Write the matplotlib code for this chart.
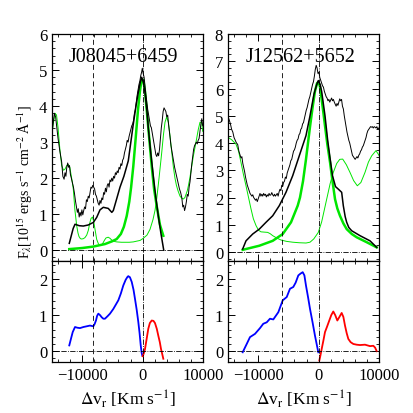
import matplotlib
matplotlib.use("Agg")
from matplotlib import pyplot as plt
from matplotlib.ticker import MultipleLocator

plt.rcParams['font.family'] = ['Liberation Serif', 'DejaVu Serif']
plt.rcParams['mathtext.fontset'] = 'stix'

# ---- J08045+6459 (left) ----
obs1_x = [-15050, -14800, -14600, -14400, -14200, -14000, -13700, -13400, -13200, -13000,
          -12850, -12700, -12550, -12400, -12250, -12100, -11950, -11800, -11600, -11450,
          -11300, -11100, -10950, -10800, -10650, -10500, -10350, -10200, -10050, -9900,
          -9750, -9600, -9450, -9300, -9150, -9000, -8850, -8700, -8550, -8400,
          -8250, -8100, -7950, -7800, -7650, -7500, -7350, -7200, -7050, -6900,
          -6750, -6600, -6450, -6300, -6150, -6000, -5850, -5700, -5550, -5400,
          -5250, -5100, -4950, -4800, -4650, -4500, -4350, -4200, -4050, -3900,
          -3750, -3600, -3450, -3300, -3150, -3000, -2850, -2700, -2550, -2400,
          -2250, -2100, -1950, -1800, -1650, -1500, -1350, -1200, -1050, -900,
          -750, -600, -450, -300, -150, -50, 100, 250, 400, 550,
          700, 850, 1000, 1150, 1300, 1450, 1600, 1750, 1900, 2050,
          2200, 2350, 2500, 2650, 2800, 2950, 3100, 3250, 3400, 3550,
          3700, 3850, 4000, 4150, 4300, 4500, 4700, 4900, 5100, 5300,
          5500, 5700, 5900, 6100, 6300, 6500, 6650, 6800, 6950, 7100,
          7250, 7400, 7550, 7700, 7850, 8000, 8150, 8300, 8450, 8600,
          8750, 8900, 9050, 9200, 9350, 9500, 9650, 9800, 9950]
obs1_y = [3.17, 3.55, 3.8, 3.7, 3.4, 3.1, 2.75, 2.45, 2.05, 1.97,
          2.15, 2.05, 2.3, 2.42, 2.3, 2.35, 2.1, 2.0, 1.85, 1.75,
          1.6, 1.35, 1.2, 1.05, 1.15, 0.92, 1.05, 0.95, 1.12, 0.98,
          1.1, 1.2, 1.15, 1.4, 1.35, 1.5, 1.45, 1.6, 1.75, 1.72,
          1.8, 1.75, 1.7, 1.55, 1.5, 1.4, 1.3, 1.25, 1.38, 1.3,
          1.45, 1.4, 1.6, 1.55, 1.72, 1.62, 1.8, 1.85, 1.75, 1.95,
          1.9, 2.0, 1.92, 2.05, 2.0, 2.15, 2.1, 2.2, 2.15, 2.3,
          2.25, 2.4, 2.35, 2.5, 2.55, 2.7, 2.8, 2.9, 3.05, 3.0,
          3.15, 3.25, 3.35, 3.45, 3.5, 3.6, 3.8, 3.9, 4.1, 4.3,
          4.45, 4.6, 4.7, 4.85, 4.95, 5.05, 4.9, 4.8, 4.55, 4.3,
          4.1, 3.9, 3.75, 3.6, 3.45, 3.4, 3.25, 3.1, 2.95, 2.8,
          2.65, 2.6, 2.7, 2.62, 2.8, 3.1, 3.4, 3.6, 3.85, 3.95,
          3.9, 3.85, 3.7, 3.75, 3.5, 3.2, 2.9, 2.7, 2.5, 2.3,
          2.15, 2.0, 1.85, 1.7, 1.6, 1.45, 1.2, 1.25, 1.1, 1.2,
          1.35, 1.55, 1.5, 1.75, 1.9, 2.15, 2.4, 2.6, 2.8, 2.9,
          2.95, 3.0, 2.95, 3.05, 3.1, 3.3, 3.5, 3.65, 3.45]

broad1_x = [-12140, -11500, -11190, -10500, -9820, -8990, -8160, -7600, -7050, -6510,
            -5690, -5100, -4850, -4300, -3740, -3100, -2370, -1590, -1100, -710,
            -400, -150, 150, 400, 700, 940, 1350, 1770, 2200, 2600, 3050, 3500]
broad1_y = [0.19, 0.6, 0.72, 0.68, 0.67, 0.7, 0.77, 0.91, 1.12, 1.19,
            1.16, 1.05, 1.1, 1.42, 1.75, 2.05, 2.48, 3.44, 4.0, 4.38,
            4.65, 4.8, 4.65, 4.38, 3.9, 3.4, 2.7, 2.06, 1.45, 0.95, 0.45, 0.0]

narrow1_x = [-12140, -10000, -8160, -6230, -5000, -4290, -3600, -3100, -2630, -2200,
             -1900, -1540, -1150, -760, -450, -150, 120, 400, 680, 1100,
             1510, 1900, 2330, 2880, 3430]
narrow1_y = [0.03, 0.06, 0.1, 0.17, 0.25, 0.31, 0.45, 0.65, 0.95, 1.35,
             1.75, 2.33, 3.1, 3.9, 4.4, 4.75, 4.72, 4.4, 3.9, 3.1,
             2.33, 1.7, 1.23, 0.7, 0.4]

model1_x = [-15050, -14800, -14500, -14250, -14000, -13700, -13400, -13100, -12850, -12550,
            -12300, -12050, -11850, -11650, -11470, -11200, -10910, -10700, -10530, -10300,
            -10080, -9800, -9540, -9250, -8990, -8750, -8540, -8300, -8100, -7850,
            -7600, -7300, -7050, -6800, -6560, -6300, -6060, -5700, -5400, -5100,
            -4900, -4600, -4290, -3500, -2910, -2200, -1540, -1000, -430, 120,
            730, 1230, 1720, 2050, 2330, 2720, 3160, 3450, 3710, 3990,
            4250, 4540, 4870, 5100, 5360, 5600, 5860, 6190, 6500, 6740,
            7000, 7190, 7400, 7570, 7800, 8010, 8390, 8840, 9220, 9500,
            9750, 9950]
model1_y = [3.17, 3.5, 3.8, 3.75, 3.4, 2.8, 2.35, 2.22, 2.25, 2.35,
            2.38, 2.3, 2.1, 1.9, 1.69, 1.1, 0.68, 0.48, 0.38, 0.32,
            0.31, 0.32, 0.35, 0.42, 0.55, 0.75, 0.88, 0.92, 0.8, 0.55,
            0.3, 0.17, 0.14, 0.15, 0.2, 0.28, 0.34, 0.36, 0.33, 0.28,
            0.26, 0.24, 0.23, 0.22, 0.22, 0.22, 0.23, 0.25, 0.27, 0.33,
            0.42, 0.58, 0.85, 1.1, 1.42, 2.0, 2.7, 3.2, 3.55, 3.7,
            3.55, 3.17, 2.65, 2.3, 2.0, 1.8, 1.65, 1.5, 1.44, 1.42,
            1.46, 1.55, 1.65, 1.78, 1.98, 2.2, 2.6, 3.0, 3.35, 3.55,
            3.55, 3.3]

blue1_x = [-12140, -11850, -11570, -11190, -10800, -10360, -9800, -9250, -8710, -8160,
           -7950, -7720, -7530, -7330, -7050, -6770, -6500, -6230, -5800, -5400,
           -4850, -4400, -4020, -3600, -3200, -2800, -2500, -2370, -2100, -1800,
           -1500, -1260, -980, -710, -500, -310, -150, -50]
blue1_y = [0.16, 0.35, 0.53, 0.67, 0.65, 0.64, 0.67, 0.69, 0.71, 0.69,
           0.75, 0.85, 0.98, 1.04, 1.0, 0.94, 0.9, 0.9, 0.97, 1.04,
           1.17, 1.3, 1.41, 1.6, 1.82, 1.98, 2.06, 2.08, 2.05, 1.92,
           1.7, 1.45, 1.15, 0.81, 0.5, 0.16, -0.05, -0.12]
red1_x = [20, 200, 400, 650, 940, 1200, 1510, 1800, 2050, 2350,
          2600, 2850, 3050, 3250, 3430]
red1_y = [-0.14, -0.06, 0.06, 0.32, 0.62, 0.78, 0.85, 0.84, 0.78, 0.62,
          0.43, 0.25, 0.06, -0.08, -0.21]

# ---- J12562+5652 (right) ----
obs2_x = [-15050, -14800, -14600, -14400, -14200, -14000, -13800, -13600, -13400, -13200,
          -13000, -12850, -12700, -12550, -12400, -12250, -12100, -11950, -11800, -11650,
          -11500, -11350, -11200, -11050, -10900, -10750, -10600, -10450, -10300, -10150,
          -10000, -9850, -9700, -9550, -9400, -9250, -9100, -8950, -8800, -8650,
          -8500, -8350, -8200, -8050, -7900, -7750, -7600, -7450, -7300, -7150,
          -7000, -6850, -6700, -6550, -6400, -6250, -6100, -5950, -5800, -5650,
          -5500, -5350, -5200, -5050, -4900, -4750, -4600, -4450, -4300, -4150,
          -4000, -3850, -3700, -3550, -3400, -3250, -3100, -2950, -2800, -2650,
          -2500, -2350, -2200, -2050, -1900, -1750, -1600, -1450, -1300, -1150,
          -1000, -850, -700, -550, -400, -250, -100, 50, 200, 350,
          500, 650, 800, 950, 1100, 1250, 1400, 1550, 1700, 1850,
          2000, 2150, 2300, 2450, 2600, 2750, 2900, 3050, 3200, 3350,
          3500, 3650, 3800, 3950, 4100, 4250, 4400, 4550, 4700, 4850,
          5000, 5150, 5300, 5450, 5600, 5750, 5900, 6050, 6200, 6350,
          6500, 6650, 6800, 6950, 7100, 7250, 7400, 7550, 7700, 7850,
          8000, 8150, 8300, 8450, 8600, 8750, 8900, 9050, 9200, 9350,
          9500, 9650, 9800, 9950]
obs2_y = [5.0, 4.85, 4.7, 4.5, 4.4, 4.2, 4.1, 4.0, 3.95, 3.7,
          3.55, 3.45, 3.5, 3.25, 3.1, 2.95, 2.75, 2.6, 2.45, 2.35,
          2.25, 2.15, 2.1, 2.05, 2.1, 2.0, 1.95, 1.9, 1.95, 1.85,
          1.95, 2.05, 2.15, 2.05, 2.12, 2.05, 2.15, 2.08, 2.12, 2.02,
          2.1, 2.05, 2.15, 2.08, 2.1, 2.18, 2.1, 2.05, 2.12, 2.05,
          2.1, 2.15, 2.05, 2.2, 2.3, 2.25, 2.45, 2.4, 2.55, 2.6,
          2.75, 2.7, 2.9, 3.0, 3.1, 3.2, 3.35, 3.4, 3.55, 3.7,
          3.75, 3.85, 4.0, 4.1, 4.15, 4.3, 4.35, 4.5, 4.55, 4.7,
          4.75, 4.9, 5.05, 5.2, 5.3, 5.45, 5.6, 5.7, 5.85, 6.0,
          6.15, 6.25, 6.45, 6.7, 6.85, 6.75, 6.55, 6.6, 6.4, 6.3,
          6.2, 6.1, 6.05, 5.9, 5.8, 5.7, 5.65, 5.55, 5.6, 5.5,
          5.58, 5.65, 5.55, 5.6, 5.5, 5.42, 5.35, 5.45, 5.38, 5.5,
          5.62, 5.55, 5.6, 5.35, 5.25, 5.0, 4.8, 4.6, 4.4, 4.25,
          4.1, 4.0, 3.85, 3.7, 3.55, 3.5, 3.45, 3.4, 3.45, 3.5,
          3.45, 3.55, 3.6, 3.7, 3.75, 3.85, 3.9, 4.0, 4.1, 4.2,
          4.35, 4.45, 4.5, 4.55, 4.6, 4.58, 4.6, 4.55, 4.6, 4.58,
          4.55, 4.6, 4.5, 4.55]

broad2_x = [-12570, -12020, -10910, -9820, -8710, -7600, -6510, -5400, -4290, -3200,
            -2090, -1420, -760, -300, -50, 250, 500, 1060, 1500, 1890,
            2300, 2800, 3300, 3820, 4090, 4400, 4650, 5000, 5480, 6850,
            8510, 9620]
broad2_y = [0.11, 0.41, 0.66, 0.84, 1.09, 1.33, 1.7, 2.19, 2.8, 3.53,
            4.27, 5.0, 5.8, 6.15, 6.29, 6.15, 5.9, 5.0, 4.1, 3.45,
            2.8, 2.4, 2.3, 2.19, 1.7, 1.3, 1.09, 0.9, 0.78, 0.6,
            0.41, 0.17]

narrow2_x = [-12570, -9820, -7600, -5940, -4570, -3460, -3080, -2580, -2090, -1700,
             -1420, -1000, -600, -250, -50, 200, 510, 800, 1060, 1450,
             1890, 2300, 2720, 3100, 3540, 4100, 4650, 5500, 6310, 7960,
             9620]
narrow2_y = [0.08, 0.23, 0.41, 0.66, 1.09, 1.7, 2.0, 2.6, 3.4, 4.1,
             4.6, 5.3, 5.9, 6.2, 6.23, 6.1, 5.6, 5.1, 4.63, 3.95,
             3.3, 2.6, 1.94, 1.6, 1.33, 1.05, 0.84, 0.66, 0.54, 0.36,
             0.17]

model2_x = [-15000, -14400, -13680, -13250, -12850, -12450, -12020, -11600, -11190, -10800,
            -10360, -9950, -9540, -9000, -8430, -8000, -7600, -6900, -6230, -5300,
            -4290, -3200, -2090, -1420, -800, -50, 500, 900, 1340, 1900,
            2430, 3000, 3500, 3990, 4600, 5200, 5800, 6410, 7000, 7680,
            8250, 8790, 9500, 10050]
model2_y = [4.21, 4.12, 3.96, 3.7, 3.29, 2.85, 2.43, 2.0, 1.58, 1.22,
            0.97, 0.8, 0.74, 0.73, 0.72, 0.67, 0.6, 0.51, 0.44, 0.39,
            0.36, 0.34, 0.33, 0.36, 0.48, 0.72, 1.1, 1.5, 1.94, 2.5,
            2.92, 3.25, 3.4, 3.41, 3.2, 2.92, 2.62, 2.43, 2.55, 2.92,
            3.3, 3.53, 3.72, 3.53]

blue2_x = [-12570, -11900, -11360, -10530, -9700, -9160, -8590, -8050, -7500, -6670,
           -5940, -5280, -4740, -4190, -3800, -3360, -3000, -2630, -2350, -2090,
           -1750, -1420, -1000, -600, -300, -50]
blue2_y = [-0.03, 0.2, 0.39, 0.48, 0.64, 0.76, 0.8, 0.9, 0.88, 1.08,
           1.41, 1.5, 1.73, 1.78, 1.9, 2.1, 2.15, 2.19, 2.1, 1.82,
           1.5, 1.17, 0.8, 0.43, 0.18, -0.03]
red2_x = [120, 300, 510, 800, 1060, 1400, 1770, 2100, 2430, 2750,
          3100, 3450, 3820, 4100, 4370, 4650, 4920, 5300, 5750, 6300,
          6850, 7680, 8510, 9060, 9350, 9620]
red2_y = [-0.26, -0.12, 0.06, 0.3, 0.53, 0.68, 0.85, 1.0, 1.1, 1.0,
          0.85, 0.95, 1.06, 0.95, 0.71, 0.5, 0.34, 0.25, 0.2, 0.18,
          0.17, 0.18, 0.14, 0.15, 0.1, 0.0]

names = ["J08045+6459", "J12562+5652"]
dashed_x = [-8200, -6100]
top_ylim = [(-0.3, 6), (-0.33, 8)]

fig = plt.figure(figsize=(4.14, 4.14), dpi=100)

panels = [
    (obs1_x, obs1_y, broad1_x, broad1_y, narrow1_x, narrow1_y, model1_x, model1_y,
     blue1_x, blue1_y, red1_x, red1_y),
    (obs2_x, obs2_y, broad2_x, broad2_y, narrow2_x, narrow2_y, model2_x, model2_y,
     blue2_x, blue2_y, red2_x, red2_y),
]
lefts = [52/414, 228/414]
w = 151/414
green = '#00e600'

for i, p in enumerate(panels):
    ox, oy, bx, by, nx, ny, mx, my, blx, bly, rx, ry = p
    top = fig.add_axes([lefts[i], 1-262/414, w, 227/414])
    bot = fig.add_axes([lefts[i], 1-363/414, w, 101/414])

    top.plot(mx, my, color=green, lw=0.7)
    top.plot(nx, ny, color=green, lw=1.8)
    top.plot(ox, oy, color='k', lw=0.7)
    top.plot(bx, by, color='k', lw=1.1)
    top.text(0.47 if i == 0 else 0.483, 0.903, names[i], transform=top.transAxes,
             ha='center', va='center', fontsize=14.5)

    bot.plot(blx, bly, color='#0000ff', lw=1.3)
    bot.plot(rx, ry, color='#ff0000', lw=1.3)

    for ax in (top, bot):
        ax.axhline(0, color='k', lw=0.6, ls='-.')
        ax.axvline(0, color='k', lw=0.6, ls='-.')
        ax.axvline(dashed_x[i], color='k', lw=0.6, ls=(0, (6, 4)))
        ax.set_xlim(-15000, 10000)
        ax.xaxis.set_major_locator(MultipleLocator(10000))
        ax.xaxis.set_minor_locator(MultipleLocator(2000))
        ax.yaxis.set_major_locator(MultipleLocator(1))
        ax.tick_params(which='both', direction='in', top=True, right=True, labelsize=12)
        ax.tick_params(which='major', length=5, width=0.7)
        ax.tick_params(which='minor', length=2.5, width=0.6)
        for s in ax.spines.values():
            s.set_linewidth(0.9)

    top.set_ylim(*top_ylim[i])
    top.yaxis.set_minor_locator(MultipleLocator(0.2 if i == 0 else 0.25))
    top.tick_params(labelbottom=False)
    bot.set_ylim(-0.3, 2.5)
    bot.yaxis.set_minor_locator(MultipleLocator(0.2))
    bot.set_xlabel(r'$\Delta$v$_{\rm r}$ [Km s$^{-1}$]', fontsize=12.5, labelpad=3)

fig.text(25/414, 1-182/414,
         'F$_\\lambda$[10$^{15}$ ergs s$^{-1}$ cm$^{-2}$ Å$^{-1}$]',
         rotation=90, ha='center', va='center', fontsize=10)

fig.savefig('out.png', dpi=100)
